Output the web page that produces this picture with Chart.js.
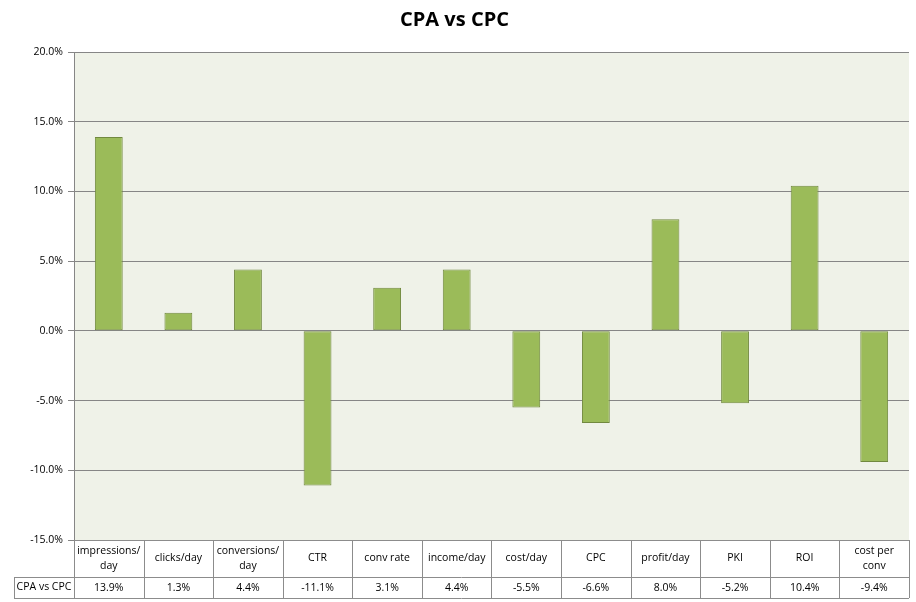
<!DOCTYPE html>
<html>
<head>
<meta charset="utf-8">
<script src="https://cdn.jsdelivr.net/npm/chart.js@4"></script>
<style>
  html, body { margin: 0; padding: 0; background: #fff; }
  #wrap { width: 916px; height: 602px; }
</style>
</head>
<body>
<div id="wrap"><canvas id="chart" width="916" height="602"></canvas></div>
<script>
// chart data
const categories = [
  ["impressions/", "day"], "clicks/day", ["conversions/", "day"], "CTR",
  "conv rate", "income/day", "cost/day", "CPC", "profit/day", "PKI", "ROI",
  ["cost per", "conv"]
];
const seriesName = "CPA vs CPC";
const seriesValues = [13.9, 1.3, 4.4, -11.1, 3.1, 4.4, -5.5, -6.6, 8.0, -5.2, 10.4, -9.4];
const yTicks = { min: -15, max: 20, step: 5 };

const FONT = "'Open Sans', 'Liberation Sans', sans-serif";
const LINE = "#8c8c8c";

// fill the plot area behind the grid
const plotBackground = {
  id: "plotBackground",
  beforeDraw(chart) {
    const { ctx, chartArea: a } = chart;
    ctx.save();
    ctx.fillStyle = "#eff2e8";
    ctx.fillRect(a.left, a.top, a.right - a.left, a.bottom - a.top);
    ctx.restore();
  },
};

// Excel-like data table under the plot, aligned on the x scale
const dataTable = {
  id: "dataTable",
  afterDraw(chart) {
    const { ctx, chartArea: a } = chart;
    const x = chart.scales.x;
    const n = categories.length;
    const half = (a.right - a.left) / n / 2;
    const headTop = a.bottom, headBottom = a.bottom + 37, rowBottom = headBottom + 21;
    const labelLeft = 14;

    ctx.save();
    ctx.strokeStyle = LINE;
    ctx.lineWidth = 1;
    ctx.beginPath();
    // horizontal lines
    ctx.moveTo(a.left, headTop + 0.5); ctx.lineTo(a.right, headTop + 0.5);
    ctx.moveTo(labelLeft, headBottom + 0.5); ctx.lineTo(a.right, headBottom + 0.5);
    ctx.moveTo(labelLeft, rowBottom + 0.5); ctx.lineTo(a.right, rowBottom + 0.5);
    // vertical lines
    ctx.moveTo(labelLeft + 0.5, headBottom); ctx.lineTo(labelLeft + 0.5, rowBottom);
    for (let i = 0; i <= n; i++) {
      const px = Math.round(x.getPixelForValue(i) - half) + 0.5;
      ctx.moveTo(px, headTop); ctx.lineTo(px, rowBottom);
    }
    ctx.stroke();

    ctx.fillStyle = "#000";
    ctx.font = "10.5px " + FONT;
    ctx.textAlign = "center";
    ctx.textBaseline = "middle";
    categories.forEach((c, i) => {
      const cx = x.getPixelForValue(i);
      const lines = Array.isArray(c) ? c : [c];
      const mid = (headTop + headBottom) / 2;
      lines.forEach((t, k) => {
        ctx.fillText(t, cx, mid + (k - (lines.length - 1) / 2) * 15);
      });
      ctx.fillText(seriesValues[i].toFixed(1) + "%", cx, (headBottom + rowBottom) / 2 + 1);
    });
    ctx.fillText(seriesName, (labelLeft + a.left) / 2, (headBottom + rowBottom) / 2);
    ctx.restore();
  },
};

new Chart(document.getElementById("chart"), {
  type: "bar",
  data: {
    labels: categories,
    datasets: [{
      label: seriesName,
      data: seriesValues,
      backgroundColor: "#9bbb59",
      borderColor: "#71893f",
      borderWidth: 1,
      borderSkipped: false,
      categoryPercentage: 1,
      barPercentage: 0.4,
    }],
  },
  options: {
    responsive: false,
    animation: false,
    devicePixelRatio: 1,
    layout: { padding: { left: 0, right: 7, top: 0, bottom: 62 } },
    plugins: {
      legend: { display: false },
      tooltip: { enabled: false },
      title: {
        display: true,
        text: "CPA vs CPC",
        color: "#000",
        font: { family: FONT, size: 20, weight: "bold" },
        padding: { top: 8, bottom: 20 },
      },
    },
    scales: {
      x: { display: false, offset: true },
      y: {
        min: yTicks.min,
        max: yTicks.max,
        afterFit(scale) { scale.width = 74; },
        ticks: {
          stepSize: yTicks.step,
          color: "#000",
          padding: 5,
          font: { family: FONT, size: 10.5 },
          callback: (v) => v.toFixed(1) + "%",
        },
        grid: { color: "#868686", tickLength: 6 },
        border: { color: "#868686" },
      },
    },
  },
  plugins: [plotBackground, dataTable],
});
</script>
</body>
</html>
